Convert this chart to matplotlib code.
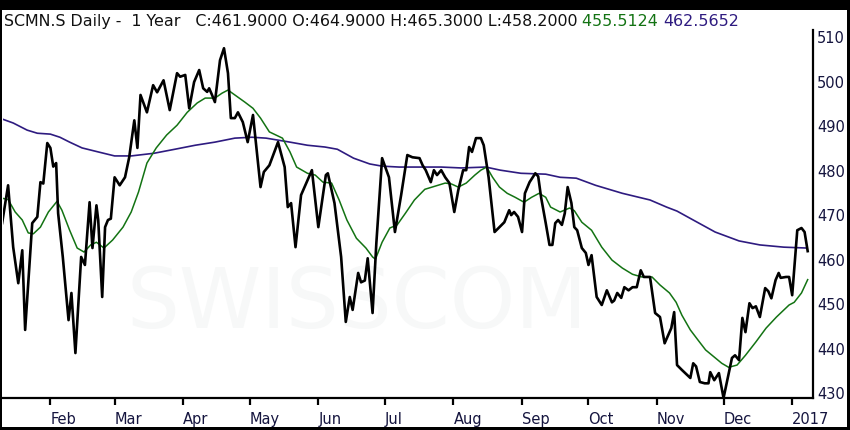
import numpy as np
import pandas as pd
import matplotlib
matplotlib.use("Agg")
import matplotlib.pyplot as plt
import matplotlib.dates as mdates
from matplotlib.ticker import FuncFormatter

# x values are days counted from 1 Jan 2016
price_day = [9.2, 11.9, 14.2, 16.5, 18.3, 19.6, 22.8, 25.1, 26.5, 27.8, 29.6,
             31.0, 32.3, 33.6, 34.5, 36.6, 39.2, 40.5, 42.3, 44.9, 46.6, 48.7,
             50.0, 51.8, 52.6, 54.4, 55.7, 57.0, 58.3, 60.0, 62.3, 64.7, 66.6,
             68.9, 70.3, 71.7, 74.6, 77.4, 79.2, 82.1, 84.9, 88.2, 89.6, 91.9,
             93.7, 95.9, 98.2, 100.0, 101.8, 102.7, 104.0, 105.3, 107.6, 109.4,
             111.2, 112.5, 114.3, 115.7, 117.9, 120.1, 122.5, 125.9, 127.4,
             129.9, 133.8, 136.8, 138.2, 139.7, 141.7, 144.2, 149.1, 152.0,
             155.4, 156.3, 159.3, 162.3, 164.4, 166.2, 167.5, 170.0, 171.3,
             173.0, 174.3, 176.5, 178.2, 180.8, 183.9, 186.6, 189.4, 192.2,
             194.5, 197.7, 199.1, 200.5, 202.8, 204.2, 205.6, 207.5, 209.3,
             211.2, 213.4, 215.2, 217.4, 218.8, 220.1, 221.4, 223.2, 225.4,
             226.7, 228.9, 231.6, 233.8, 236.0, 238.2, 239.1, 240.4, 242.2,
             244.0, 245.3, 247.4, 250.0, 251.3, 252.6, 254.7, 256.4, 257.7,
             259.0, 260.3, 262.0, 263.3, 264.6, 266.3, 267.6, 268.9, 271.0,
             272.8, 274.0, 275.4, 277.7, 280.0, 282.3, 284.6, 285.6, 287.0,
             288.8, 290.2, 292.1, 293.9, 295.8, 297.6, 299.0, 301.8, 304.1,
             306.3, 308.4, 311.4, 312.7, 314.0, 316.2, 320.0, 321.3, 322.6,
             324.3, 326.5, 328.2, 329.0, 330.8, 332.9, 335.0, 336.4, 338.8,
             340.2, 342.0, 343.5, 344.9, 346.7, 348.1, 349.6, 351.4, 353.8,
             355.2, 356.6, 358.5, 359.9, 360.8, 363.2, 364.6, 366.0, 368.3,
             370.2, 371.6, 373.0]
price = [468.2, 476.7, 462.8, 454.7, 462.1, 444.2, 468.2, 469.6, 477.4, 477.1, 486.2,
         485.1, 480.9, 481.7, 470.4, 460.6, 446.4, 452.5, 439.0, 460.6, 458.8, 472.9,
         462.6, 472.2, 468.9, 451.6, 467.3, 468.9, 469.2, 478.5, 476.7, 478.5, 483.0,
         491.3, 485.1, 497.0, 493.1, 499.2, 497.6, 500.3, 493.6, 501.9, 501.1, 501.5,
         494.0, 499.9, 502.6, 498.5, 497.7, 498.5, 497.0, 495.4, 504.8, 507.5,
         501.9, 491.8, 491.8, 493.1, 490.9, 486.4, 492.5, 476.3, 479.7,
         481.2, 486.4, 480.8, 471.8, 472.7, 462.8, 474.5, 480.1, 467.3,
         479.0, 479.4, 472.7, 460.6, 446.0, 451.6, 448.7, 457.0, 454.9,
         455.3, 460.3, 448.0, 463.7, 482.8, 478.5, 466.2, 474.5, 483.5,
         483.0, 482.8, 481.2, 480.1, 477.4, 480.1, 479.0, 480.1, 478.5,
         477.2, 470.7, 475.6, 480.1, 480.1, 485.3, 484.2, 487.3, 487.3,
         485.7, 478.5, 466.2, 467.3, 468.4, 471.1, 470.0, 470.7, 469.6,
         466.2, 474.9, 477.4, 479.4, 478.7, 474.0, 468.2, 463.3, 463.3,
         468.2, 468.9, 467.8, 470.4, 476.3, 472.7, 467.3, 466.6, 462.6,
         461.5, 458.8, 461.0, 451.6, 449.8, 453.1, 450.4, 450.8, 452.5,
         451.4, 453.8, 453.1, 453.8, 453.8, 457.6, 456.1, 456.1, 448.0,
         447.1, 441.2, 444.6, 448.2, 436.3, 435.2, 433.4, 436.7, 436.0,
         432.5, 432.2, 432.2, 434.7, 432.9, 434.5, 428.9, 432.2, 437.9,
         438.5, 437.4, 446.9, 443.7, 450.2, 449.1, 449.5, 447.1, 453.6,
         452.9, 451.3, 455.4, 457.0, 455.9, 456.1, 456.1, 452.0, 466.6,
         467.1, 466.2, 461.9]

ma_short_day = [9.2, 11.9, 15.1, 18.3, 21.0, 23.3, 26.5, 30.1, 34.0, 36.2, 39.7,
                43.1, 46.2, 49.2, 51.8, 55.2, 59.1, 63.8, 67.5, 70.8, 74.6, 78.8,
                83.5, 88.2, 92.8, 97.3, 100.9, 105.3, 108.5, 111.2, 114.3, 118.8,
                122.5, 125.9, 129.9, 135.8, 139.2, 142.2, 147.1, 150.6, 154.1,
                158.0, 161.4, 164.9, 169.2, 173.5, 176.5, 177.8, 180.8, 184.3,
                187.6, 191.3, 195.4, 200.1, 204.7, 209.3, 212.1, 215.2, 218.8,
                222.7, 225.4, 228.0, 230.7, 233.8, 237.3, 240.9, 244.9, 248.3,
                251.7, 254.7, 256.9, 261.2, 265.5, 267.6, 271.0, 275.4, 280.0,
                284.6, 289.3, 293.9, 298.1, 302.7, 306.3, 310.6, 313.6, 316.2,
                320.0, 323.5, 326.9, 330.8, 334.2, 337.3, 341.1, 344.9, 349.6,
                354.2, 358.9, 364.6, 366.9, 370.2, 373.0]
ma_short = [473.8, 473.5, 470.7, 468.9, 466.0, 465.8, 467.3, 470.7, 473.1, 471.1, 466.6,
            462.6, 461.7, 463.3, 463.9, 462.6, 464.4, 467.3, 470.7, 475.2, 481.7, 485.1,
            488.0, 490.2, 493.1, 495.2, 496.3, 496.3, 497.4, 498.1, 497.0, 495.4,
            494.0, 491.8, 488.7, 487.3, 484.2, 480.8, 479.4, 479.0, 477.4,
            477.2, 473.4, 468.9, 464.8, 462.6, 460.6, 460.1, 463.9, 467.1,
            467.8, 470.4, 473.4, 475.8, 476.5, 477.2, 477.0, 476.3, 477.2,
            479.0, 480.1, 480.8, 478.5, 476.3, 474.9, 474.0, 472.9, 474.0,
            474.9, 474.0, 471.8, 470.7, 471.6, 471.0, 468.4, 466.6, 462.8,
            459.9, 458.1, 456.7, 456.1, 456.1, 454.3, 452.5, 450.4, 447.5,
            444.2, 441.9, 439.7, 438.1, 436.7, 435.8, 436.3, 438.5, 441.5,
            444.6, 447.1, 449.8, 450.4, 452.5, 455.5]

ma_long_day = [9.2, 14.2, 20.5, 25.1, 31.0, 35.3, 39.7, 45.3, 52.6, 60.0, 67.5,
               77.8, 87.2, 96.4, 105.3, 114.3, 122.0, 128.4, 139.2, 147.1, 155.0,
               160.6, 167.9, 175.2, 180.8, 188.5, 207.5, 216.5, 227.6, 234.2,
               243.5, 254.7, 261.2, 268.5, 277.2, 289.3, 301.8, 309.3, 314.0,
               321.3, 331.2, 342.0, 351.4, 362.2, 372.6]
ma_long = [491.6, 490.7, 489.1, 488.4, 488.2, 487.5, 486.4, 485.1, 484.2, 483.3, 483.3,
           483.9, 484.8, 485.7, 486.4, 487.3, 487.5, 487.3, 486.4, 485.7, 485.3,
           484.8, 482.8, 481.5, 481.0, 480.8, 480.8, 480.6, 480.8, 480.1,
           479.4, 479.2, 478.5, 478.3, 476.7, 474.9, 473.4, 471.8, 470.9,
           468.9, 466.2, 464.2, 463.3, 462.8, 462.6]

y_ticks = [430, 440, 450, 460, 470, 480, 490, 500, 510]
title_parts = ["SCMN.S Daily -  1 Year   C:461.9000 O:464.9000 H:465.3000 L:458.2000 ",
               "455.5124 ", "462.5652"]

green = "#137313"
purple = "#2e1b80"
navy = "#15153f"

start = pd.Timestamp("2016-01-01")
def to_dates(days):
    return start + pd.to_timedelta(np.array(days), unit="D")

fig = plt.figure(figsize=(8.5, 4.3), dpi=100, facecolor="black")

# white panel inside the black frame
bg = fig.add_axes([2/850, 3/430, 845/850, 417/430])
bg.set_facecolor("white")
bg.set_xticks([])
bg.set_yticks([])
for s in bg.spines.values():
    s.set_visible(False)

ax = fig.add_axes([3/850, 32/430, 810/850, 368/430])
ax.patch.set_alpha(0)

ax.text(0.437, 0.253, "SWISSCOM", transform=ax.transAxes, fontsize=60,
        color="#f7f8f8", ha="center", va="center", zorder=0)

ax.plot(to_dates(ma_long_day), ma_long, color=purple, lw=1.2, zorder=2)
ax.plot(to_dates(ma_short_day), ma_short, color=green, lw=1.1, zorder=3)
ax.plot(to_dates(price_day), price, color="black", lw=1.9, zorder=4)

ax.set_xlim(start + pd.Timedelta(days=9.6), start + pd.Timedelta(days=375.4))
ax.set_ylim(428.9, 511.6)

for side in ["left", "top"]:
    ax.spines[side].set_visible(False)
for side in ["right", "bottom"]:
    ax.spines[side].set_linewidth(1.6)
    ax.spines[side].set_color("black")

ax.yaxis.tick_right()
ax.set_yticks(y_ticks)
ax.tick_params(axis="y", length=0, pad=3, labelsize=10.5, labelcolor=navy)

ax.xaxis.set_major_locator(mdates.MonthLocator())
def month_label(x, pos):
    d = mdates.num2date(x)
    return str(d.year) if d.month == 1 else d.strftime("%b")
ax.xaxis.set_major_formatter(FuncFormatter(month_label))
ax.tick_params(axis="x", length=5, width=1.6, pad=5, labelsize=10.5, labelcolor=navy)
for lbl in ax.get_xticklabels():
    lbl.set_horizontalalignment("left")

# title line in three colours
fig.canvas.draw()
renderer = fig.canvas.get_renderer()
x_px = 4
for text, col in zip(title_parts, ["#111111", green, purple]):
    t = fig.text(x_px/850, 404/430, text, color=col, fontsize=11.4, va="baseline", ha="left")
    x_px = t.get_window_extent(renderer).x1

fig.savefig("out.png", dpi=100, facecolor=fig.get_facecolor())
